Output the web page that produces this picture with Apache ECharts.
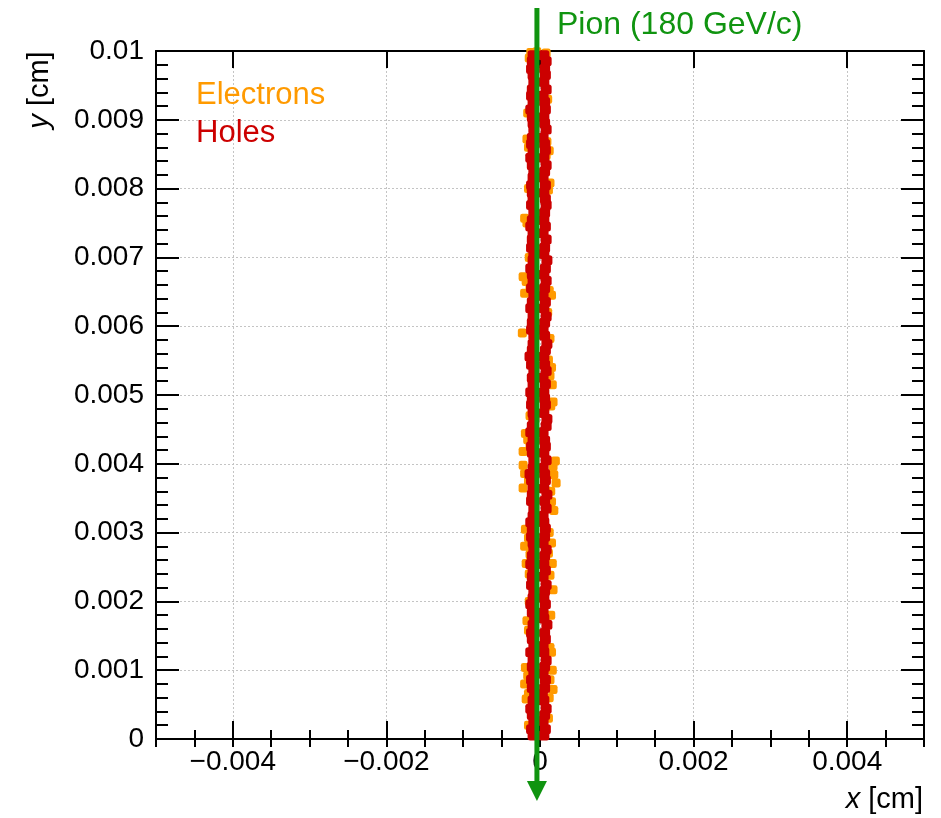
<!DOCTYPE html>
<html>
<head>
<meta charset="utf-8">
<title>Pion track - electrons and holes</title>
<script src="https://cdn.jsdelivr.net/npm/echarts@6/dist/echarts.min.js"></script>
<style>
    html, body { margin: 0; padding: 0; background: #fff; }
    #chart { width: 941px; height: 818px; }
</style>
</head>
<body>
<div id="chart"></div>
<script>
// x [cm], y [cm] of the charge carriers
const electrons = [
    [-0.00012, 0.00998], [-0.00004, 0.00999], [0.00008, 0.00997], [-0.00014, 0.00990],
    [-0.00017, 0.00872], [-0.00015, 0.00860], [0.00009, 0.00868], [0.00012, 0.00855], [0.00008, 0.00848],
    [0.00013, 0.00808], [0.00011, 0.00798],
    [-0.00020, 0.00757], [-0.00017, 0.00750],
    [-0.00022, 0.00672], [-0.00018, 0.00665], [-0.00013, 0.00658], [-0.00020, 0.00648], [0.00012, 0.00652], [0.00015, 0.00645],
    [-0.00023, 0.00590], [0.00013, 0.00582],
    [0.00011, 0.00551], [0.00015, 0.00540], [0.00013, 0.00528], [0.00016, 0.00515],
    [0.00017, 0.00490], [0.00014, 0.00484],
    [-0.00019, 0.00444], [-0.00016, 0.00435], [-0.00013, 0.00425], [-0.00022, 0.00418],
    [0.00020, 0.00404], [-0.00022, 0.00398], [0.00017, 0.00396],
    [-0.00020, 0.00386], [-0.00015, 0.00375], [-0.00022, 0.00365], [0.00018, 0.00384], [0.00021, 0.00372], [0.00014, 0.00360],
    [0.00015, 0.00345], [0.00018, 0.00332],
    [-0.00019, 0.00305], [-0.00015, 0.00292], [-0.00020, 0.00280], [-0.00013, 0.00268], [-0.00018, 0.00255], [-0.00014, 0.00240],
    [0.00012, 0.00300], [0.00015, 0.00285], [0.00011, 0.00270], [0.00016, 0.00255], [0.00013, 0.00238],
    [0.00017, 0.00217],
    [-0.00017, 0.00172], [-0.00015, 0.00158],
    [0.00013, 0.00133], [0.00015, 0.00126],
    [-0.00019, 0.00104], [-0.00016, 0.00092], [-0.00020, 0.00080], [-0.00015, 0.00066], [-0.00018, 0.00058],
    [0.00016, 0.00100], [0.00013, 0.00086], [0.00017, 0.00072], [0.00012, 0.00060],
    [-0.00014, 0.00700], [-0.00015, 0.00800], [0.00010, 0.00930], [-0.00016, 0.00910], [0.00011, 0.00030],
    [-0.00015, 0.00020], [0.00014, 0.00180], [-0.00013, 0.00470], [0.00010, 0.00620], [-0.00014, 0.00200]
];

const holes = [
    [-0.00009, 0.00005], [0.00005, 0.00005], [-0.00011, 0.00014], [0.00007, 0.00014],
    [-0.00008, 0.00026], [0.00004, 0.00026], [-0.00010, 0.00035], [0.00006, 0.00035],
    [-0.00012, 0.00044], [0.00008, 0.00044], [-0.00009, 0.00056], [0.00005, 0.00056],
    [-0.00007, 0.00065], [0.00003, 0.00065], [-0.00010, 0.00074], [0.00006, 0.00074],
    [-0.00011, 0.00086], [0.00007, 0.00086], [-0.00008, 0.00095], [0.00004, 0.00095],
    [-0.00010, 0.00105], [0.00006, 0.00105], [-0.00009, 0.00114], [0.00008, 0.00114],
    [-0.00012, 0.00126], [0.00005, 0.00126], [-0.00008, 0.00135], [0.00004, 0.00135],
    [-0.00010, 0.00145], [0.00007, 0.00145], [-0.00011, 0.00154], [0.00006, 0.00154],
    [-0.00009, 0.00166], [0.00009, 0.00166], [-0.00007, 0.00175], [0.00005, 0.00175],
    [-0.00010, 0.00184], [0.00004, 0.00184], [-0.00012, 0.00196], [0.00007, 0.00196],
    [-0.00009, 0.00205], [0.00005, 0.00205], [-0.00008, 0.00215], [0.00006, 0.00215],
    [-0.00011, 0.00224], [0.00008, 0.00224], [-0.00010, 0.00236], [0.00004, 0.00236],
    [-0.00009, 0.00245], [0.00007, 0.00245], [-0.00012, 0.00254], [0.00005, 0.00254],
    [-0.00010, 0.00266], [0.00006, 0.00266], [-0.00008, 0.00275], [0.00008, 0.00275],
    [-0.00009, 0.00285], [0.00004, 0.00285], [-0.00011, 0.00294], [0.00006, 0.00294],
    [-0.00010, 0.00306], [0.00007, 0.00306], [-0.00012, 0.00315], [0.00005, 0.00315],
    [-0.00009, 0.00324], [0.00004, 0.00324], [-0.00008, 0.00335], [0.00008, 0.00335],
    [-0.00011, 0.00346], [0.00006, 0.00346], [-0.00010, 0.00355], [0.00009, 0.00355],
    [-0.00009, 0.00364], [0.00005, 0.00364], [-0.00011, 0.00376], [0.00007, 0.00376],
    [-0.00013, 0.00385], [0.00006, 0.00385], [-0.00009, 0.00394], [0.00004, 0.00394],
    [-0.00008, 0.00405], [0.00008, 0.00405], [-0.00010, 0.00416], [0.00005, 0.00416],
    [-0.00011, 0.00425], [0.00007, 0.00425], [-0.00009, 0.00434], [0.00006, 0.00434],
    [-0.00012, 0.00446], [0.00004, 0.00446], [-0.00010, 0.00455], [0.00008, 0.00455],
    [-0.00008, 0.00465], [0.00009, 0.00465], [-0.00009, 0.00474], [0.00005, 0.00474],
    [-0.00011, 0.00486], [0.00007, 0.00486], [-0.00010, 0.00495], [0.00006, 0.00495],
    [-0.00012, 0.00504], [0.00005, 0.00504], [-0.00009, 0.00516], [0.00007, 0.00516],
    [-0.00010, 0.00525], [0.00004, 0.00525], [-0.00008, 0.00535], [0.00008, 0.00535],
    [-0.00011, 0.00544], [0.00006, 0.00544], [-0.00013, 0.00556], [0.00005, 0.00556],
    [-0.00010, 0.00565], [0.00007, 0.00565], [-0.00009, 0.00574], [0.00009, 0.00574],
    [-0.00008, 0.00586], [0.00006, 0.00586], [-0.00011, 0.00595], [0.00004, 0.00595],
    [-0.00010, 0.00605], [0.00006, 0.00605], [-0.00009, 0.00614], [0.00008, 0.00614],
    [-0.00012, 0.00626], [0.00005, 0.00626], [-0.00010, 0.00635], [0.00007, 0.00635],
    [-0.00008, 0.00644], [0.00004, 0.00644], [-0.00011, 0.00655], [0.00006, 0.00655],
    [-0.00009, 0.00666], [0.00008, 0.00666], [-0.00010, 0.00675], [0.00005, 0.00675],
    [-0.00012, 0.00684], [0.00007, 0.00684], [-0.00009, 0.00696], [0.00009, 0.00696],
    [-0.00008, 0.00705], [0.00005, 0.00705], [-0.00011, 0.00714], [0.00006, 0.00714],
    [-0.00010, 0.00726], [0.00008, 0.00726], [-0.00009, 0.00735], [0.00004, 0.00735],
    [-0.00012, 0.00745], [0.00007, 0.00745], [-0.00010, 0.00754], [0.00005, 0.00754],
    [-0.00008, 0.00765], [0.00006, 0.00765], [-0.00011, 0.00776], [0.00008, 0.00776],
    [-0.00009, 0.00785], [0.00007, 0.00785], [-0.00010, 0.00794], [0.00005, 0.00794],
    [-0.00011, 0.00805], [0.00007, 0.00805], [-0.00009, 0.00816], [0.00004, 0.00816],
    [-0.00008, 0.00825], [0.00006, 0.00825], [-0.00010, 0.00834], [0.00008, 0.00834],
    [-0.00012, 0.00845], [0.00005, 0.00845], [-0.00009, 0.00856], [0.00007, 0.00856],
    [-0.00011, 0.00865], [0.00006, 0.00865], [-0.00010, 0.00874], [0.00004, 0.00874],
    [-0.00008, 0.00886], [0.00008, 0.00886], [-0.00009, 0.00895], [0.00006, 0.00895],
    [-0.00010, 0.00904], [0.00005, 0.00904], [-0.00012, 0.00915], [0.00007, 0.00915],
    [-0.00009, 0.00926], [0.00006, 0.00926], [-0.00011, 0.00935], [0.00004, 0.00935],
    [-0.00010, 0.00944], [0.00008, 0.00944], [-0.00008, 0.00955], [0.00005, 0.00955],
    [-0.00009, 0.00965], [0.00007, 0.00965], [-0.00011, 0.00974], [0.00006, 0.00974],
    [-0.00010, 0.00985], [0.00008, 0.00985], [-0.00009, 0.00994], [0.00005, 0.00994]
];

const pionX = -0.00004;          // track position
const xRange = [-0.005, 0.005];
const yRange = [0, 0.01];

const font = 'Liberation Sans, Arial, Helvetica, sans-serif';
const green = '#109410';

let myChart = echarts.init(document.getElementById('chart'));

function fmtX(v) {
    let s = String(+Math.abs(v).toFixed(3));
    return v < -1e-9 ? '\u2212' + s : s;
}
function fmtY(v) {
    return String(+v.toFixed(3));
}

let frame = { onZero: false, lineStyle: { color: '#000', width: 2 } };
let dotted = { show: true, lineStyle: { color: '#c4c4c4', width: 1, type: [2, 2] } };

let option = {
    animation: false,
    grid: { left: 156, right: 17, top: 51, bottom: 79 },
    xAxis: [
        {   // bottom, major ticks + labels + grid
            type: 'value', position: 'bottom', min: xRange[0], max: xRange[1], splitNumber: 5,
            axisLine: frame,
            axisTick: { inside: true, length: 18, lineStyle: { color: '#000', width: 2 } },
            axisLabel: { formatter: fmtX, showMinLabel: false, showMaxLabel: false,
                         fontSize: 28, fontFamily: font, color: '#000', margin: 9 },
            splitLine: dotted
        },
        {   // bottom, small ticks
            type: 'value', position: 'bottom', min: xRange[0], max: xRange[1], interval: 0.0005,
            axisLine: { show: false },
            axisTick: { inside: true, length: 9, lineStyle: { color: '#000', width: 2 } },
            axisLabel: { show: false }, splitLine: { show: false }
        },
        {   // top, major ticks
            type: 'value', position: 'top', min: xRange[0], max: xRange[1], splitNumber: 5,
            axisLine: frame,
            axisTick: { inside: true, length: 17, lineStyle: { color: '#000', width: 2 } },
            axisLabel: { show: false }, splitLine: { show: false }
        },
        {   // top, small ticks
            type: 'value', position: 'top', min: xRange[0], max: xRange[1], interval: 0.0005,
            axisLine: { show: false },
            axisTick: { inside: true, length: 8, lineStyle: { color: '#000', width: 2 } },
            axisLabel: { show: false }, splitLine: { show: false }
        }
    ],
    yAxis: [
        {
            type: 'value', position: 'left', min: yRange[0], max: yRange[1], interval: 0.001,
            axisLine: frame,
            axisTick: { inside: true, length: 23, lineStyle: { color: '#000', width: 2 } },
            minorTick: { show: true, splitNumber: 5, length: 12, lineStyle: { color: '#000', width: 2 } },
            axisLabel: { formatter: fmtY, fontSize: 28, fontFamily: font, color: '#000', margin: 12 },
            splitLine: dotted
        },
        {
            type: 'value', position: 'right', min: yRange[0], max: yRange[1], interval: 0.001,
            axisLine: frame,
            axisTick: { inside: true, length: 23, lineStyle: { color: '#000', width: 2 } },
            minorTick: { show: true, splitNumber: 5, length: 12, lineStyle: { color: '#000', width: 2 } },
            axisLabel: { show: false }, splitLine: { show: false }
        }
    ],
    series: [
        {
            name: 'Electrons', type: 'scatter', data: electrons,
            symbol: 'roundRect', symbolSize: [9, 9],
            itemStyle: { color: '#ff9a00', opacity: 1 }, z: 3
        },
        {
            name: 'Holes', type: 'scatter', data: holes,
            symbol: 'roundRect', symbolSize: [11, 10],
            itemStyle: { color: '#cc0000', opacity: 1 }, z: 4
        }
    ]
};
myChart.setOption(option);

// pion track arrow + texts
let px = myChart.convertToPixel({ xAxisIndex: 0 }, pionX);
myChart.setOption({
    graphic: [
        { type: 'line', z: 100, shape: { x1: px, y1: 8, x2: px, y2: 785 },
          style: { stroke: green, lineWidth: 5 } },
        { type: 'polygon', z: 100, shape: { points: [[px - 10, 781], [px + 10, 781], [px, 801]] },
          style: { fill: green } },
        { type: 'text', z: 100, x: 557, y: 25,
          style: { text: 'Pion (180 GeV/c)', fill: green, font: '32px ' + font, verticalAlign: 'middle' } },
        { type: 'text', z: 100, x: 196, y: 95,
          style: { text: 'Electrons', fill: '#ff9a00', font: '31px ' + font, verticalAlign: 'middle' } },
        { type: 'text', z: 100, x: 196, y: 133,
          style: { text: 'Holes', fill: '#cc0000', font: '31px ' + font, verticalAlign: 'middle' } },
        { type: 'text', z: 100, x: 923, y: 800,
          style: { text: '{i|x} [cm]', fill: '#000', font: '29px ' + font, align: 'right', verticalAlign: 'middle',
                   rich: { i: { fontStyle: 'italic', fontSize: 29, fontFamily: font } } } },
        { type: 'text', z: 100, x: 40, y: 90, rotation: Math.PI / 2,
          style: { text: '{i|y} [cm]', fill: '#000', font: '29px ' + font, align: 'center', verticalAlign: 'middle',
                   rich: { i: { fontStyle: 'italic', fontSize: 29, fontFamily: font } } } }
    ]
});
</script>
</body>
</html>
